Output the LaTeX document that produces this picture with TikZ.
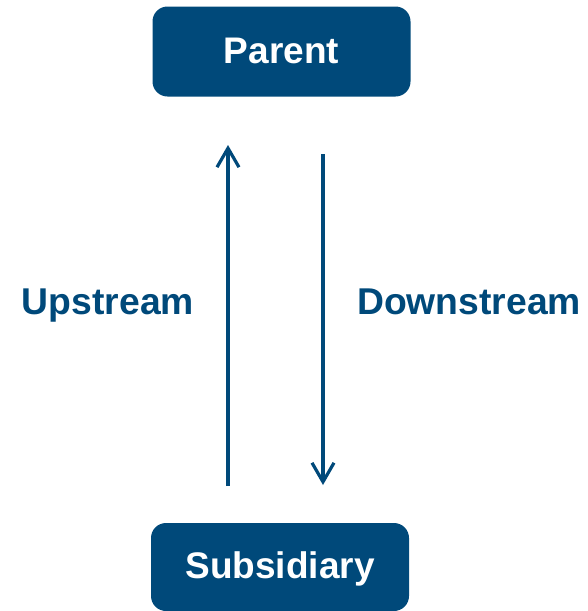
\documentclass[tikz,border=0pt]{standalone}
\usepackage{fontspec}
\setmainfont{Liberation Sans}
\usetikzlibrary{arrows.meta}
\definecolor{navy}{RGB}{0,73,122}
\begin{document}
\begin{tikzpicture}[x=1pt,y=-1pt,
  entity/.style={fill=navy, rounded corners=15pt, text=white, font=\fontsize{37}{40}\selectfont\bfseries, minimum width=258pt, minimum height=90pt, inner sep=0pt, text height=27pt, text depth=4pt},
  flowlabel/.style={text=navy, font=\fontsize{37.3}{40}\selectfont\bfseries, inner sep=0pt, anchor=base},
  flow/.style={draw=navy, line width=3.2pt, -{Straight Barb[length=19pt,width=22pt,line width=3.2pt]}}]
\useasboundingbox (0,0) rectangle (587,611);
\node[entity] (parent) at (281.5,51.5) {Parent};
\node[entity, minimum height=88pt] (sub) at (280,567) {Subsidiary};
\coordinate (upS) at (228,486);
\coordinate (upE) at (228,145);
\coordinate (dnS) at (323,154);
\coordinate (dnE) at (323,485);
\draw[flow] (upS) -- (upE);
\draw[flow] (dnS) -- (dnE);
\node[flowlabel] (up) at (108,314) {Upstream};
\node[flowlabel] (down) at (469,314) {Downstream};
\end{tikzpicture}
\end{document}
